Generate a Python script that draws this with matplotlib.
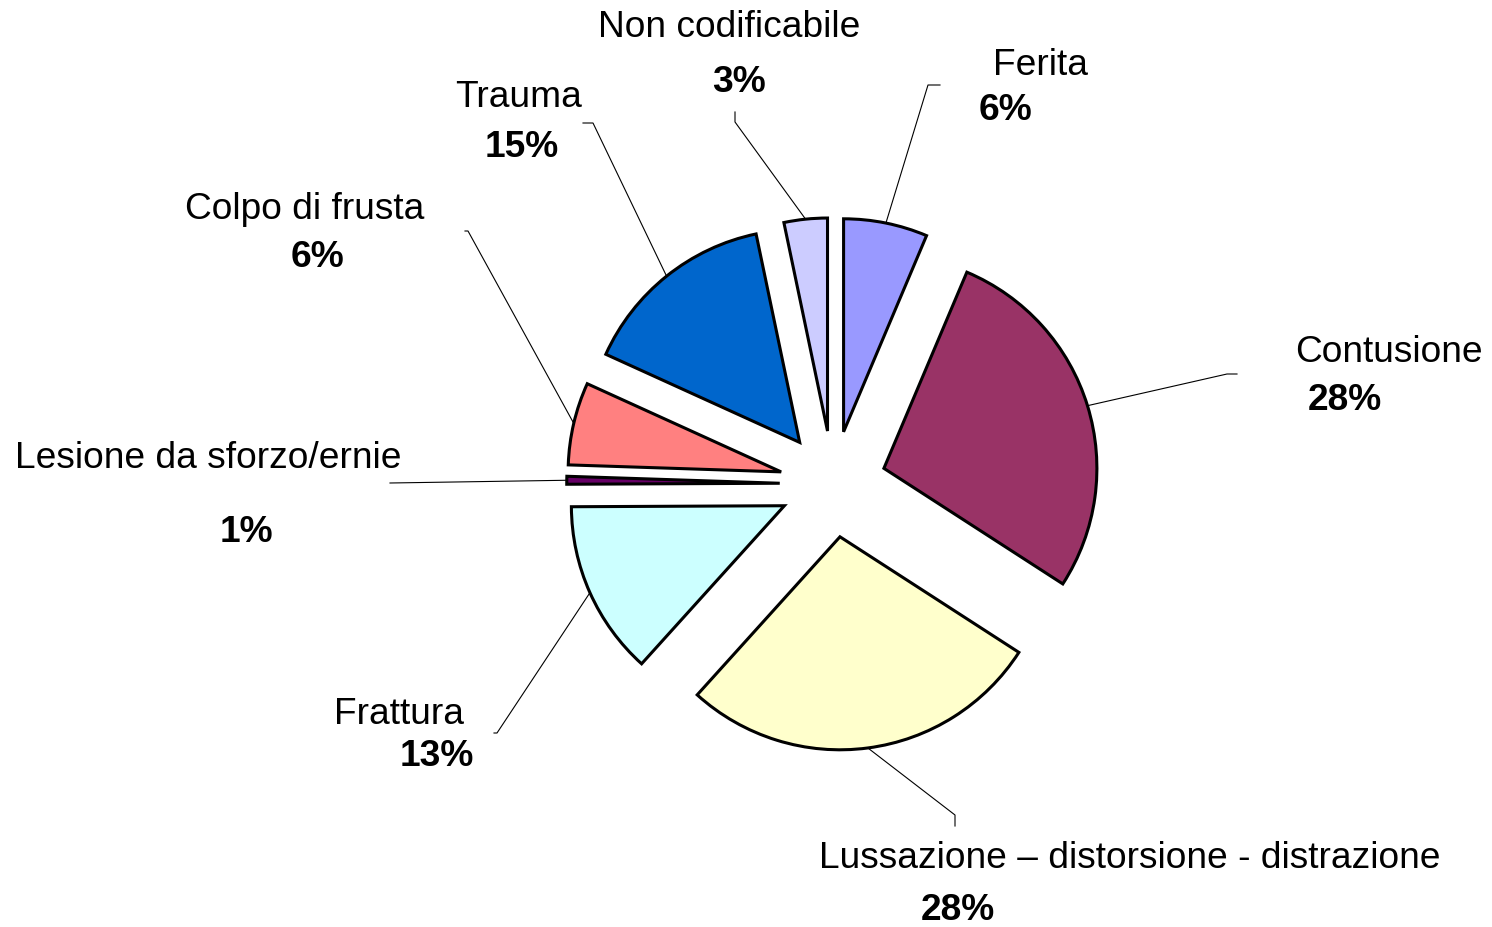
import matplotlib
matplotlib.use("Agg")
import matplotlib.pyplot as plt
import numpy as np

# slices, clockwise from 12 o'clock (in %)
categories = ["Ferita", "Contusione", "Lussazione \u2013 distorsione - distrazione", "Frattura",
              "Lesione da sforzo/ernie", "Colpo di frusta", "Trauma", "Non codificabile"]
values = [6.4, 27.9, 27.7, 13.3, 0.6, 6.3, 15.0, 3.3]
colors = ["#9999FF", "#993366", "#FFFFCC", "#CCFFFF", "#660066", "#FF8080", "#0066CC", "#CCCCFF"]

W, H = 1492, 927
plt.rcParams['font.family'] = ['Liberation Sans', 'DejaVu Sans']

fig = plt.figure(figsize=(W / 100, H / 100), dpi=100)
ax = fig.add_axes([0, 0, 1, 1])

cx, cy = 833, H - 484
R = 213
# explode is in data units here (axes are in pixels)
wedges, _ = ax.pie(values, colors=colors, startangle=90, counterclock=False,
                   explode=[0.25 * R] * len(values), center=(cx, cy), radius=R,
                   wedgeprops=dict(edgecolor='black', linewidth=2.2), frame=True)
ax.set_xlim(0, W)
ax.set_ylim(0, H)
ax.axis('off')

# label layout in pixel coords (y from top): name position, percent position, knee, end of leader
layout = [
    ((1041, 65), (1005, 110), (928, 85), (940, 85)),
    ((1389, 352), (1345, 400), (1227, 374), (1237, 374)),
    ((1130, 859), (958, 910), (955, 815), (955, 826)),
    ((399, 715), (437, 757), (497, 733), (494, 733)),
    ((208, 458), (246, 533), (390, 483), (390, 483)),
    ((305, 209), (318, 257), (468, 231), (465, 231)),
    ((519, 97), (522, 147), (593, 123), (583, 123)),
    ((729, 27), (739, 82), (735, 122), (735, 112)),
]

total = sum(values)
for w, name, v, (npos, ppos, knee, end) in zip(wedges, categories, values, layout):
    mid = np.deg2rad((w.theta1 + w.theta2) / 2)
    x0 = w.center[0] + R * np.cos(mid)
    y0 = w.center[1] + R * np.sin(mid)
    ax.plot([x0, knee[0], end[0]], [y0, H - knee[1], H - end[1]],
            color='black', lw=0.8, zorder=0)
    ax.text(npos[0], H - npos[1], name, ha='center', va='center', fontsize=26.7)
    ax.text(ppos[0], H - ppos[1], f"{round(v / total * 100)}%", ha='center', va='center',
            fontsize=26.7, fontweight='bold')

fig.savefig("out.png", dpi=100, facecolor='white')
